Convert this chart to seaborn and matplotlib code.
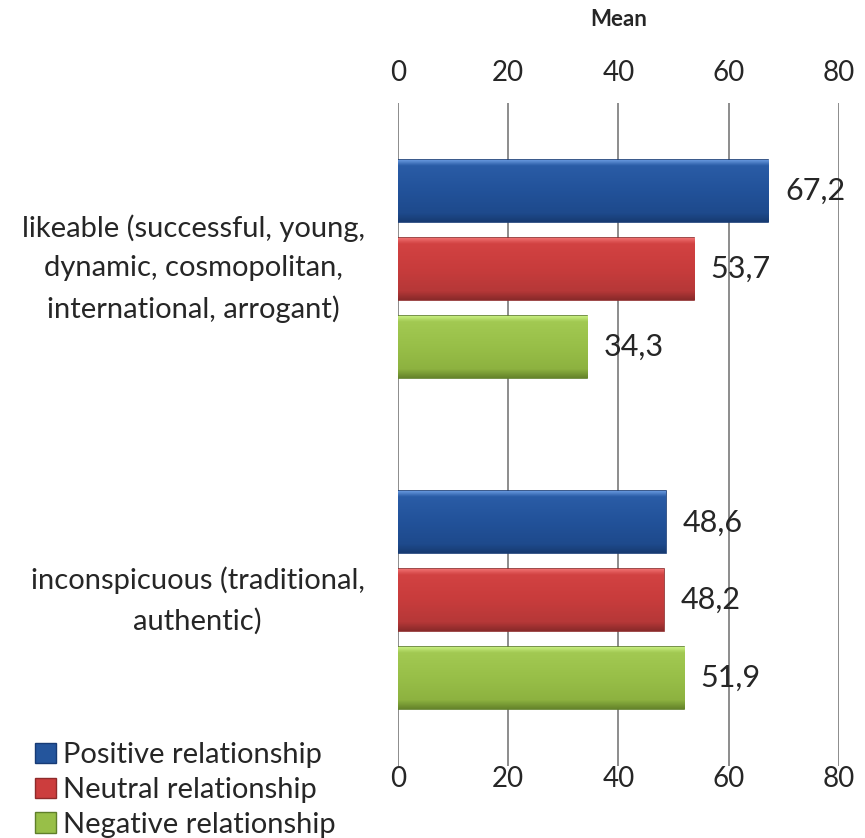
"""Grouped horizontal bar chart of mean scores by relationship type."""

import matplotlib.pyplot as plt
import numpy as np
import pandas as pd
import seaborn as sns
from matplotlib.colors import LinearSegmentedColormap

CATEGORIES = [
    "likeable (successful, young,\ndynamic, cosmopolitan,\ninternational, arrogant)",
    "inconspicuous (traditional,\nauthentic)",
]
RELATIONSHIPS = ["Positive relationship", "Neutral relationship", "Negative relationship"]
POSITIVE = [67.2, 48.6]
NEUTRAL = [53.7, 48.2]
NEGATIVE = [34.3, 51.9]
X_TICKS = [0, 20, 40, 60, 80]
COLORS = ["#24559C", "#CC3D3D", "#98BF48"]
GRADIENTS = [
    ["#6C9DE2", "#2A5CA6", "#22529A", "#1E4A8C", "#173B72"],
    ["#F27474", "#D24242", "#C83C3C", "#B63838", "#8A2A2A"],
    ["#CBF284", "#A2C952", "#98BF48", "#8DB240", "#66852B"],
]
EDGES = ["#173B75", "#8E2A2A", "#5F7F2A"]


def shade_bars(ax, container, stops):
    cmap = LinearSegmentedColormap.from_list(
        "bevel", list(zip([0, 0.1, 0.5, 0.86, 1], stops))
    )
    ramp = np.linspace(0, 1, 100).reshape(-1, 1)
    for bar in container:
        x, y = bar.get_x(), bar.get_y()
        w, h = bar.get_width(), bar.get_height()
        im = ax.imshow(
            ramp,
            cmap=cmap,
            aspect="auto",
            origin="upper",
            extent=[x, x + w, y + h, y],
            zorder=3.5,
        )
        im.set_clip_path(bar)


def main() -> None:
    sns.set_theme(style="white")
    plt.rcParams["font.family"] = ["Lato", "DejaVu Sans"]

    df = pd.DataFrame(
        {
            "category": CATEGORIES * 3,
            "relationship": [r for r in RELATIONSHIPS for _ in CATEGORIES],
            "mean": POSITIVE + NEUTRAL + NEGATIVE,
        }
    )

    fig = plt.figure(figsize=(8.65, 8.38), dpi=100)
    ax = fig.add_axes([0.460, 0.086, 0.510, 0.791])

    sns.barplot(
        data=df,
        y="category",
        x="mean",
        hue="relationship",
        hue_order=RELATIONSHIPS,
        order=CATEGORIES,
        orient="h",
        palette=COLORS,
        saturation=1,
        width=0.705,
        gap=0.2,
        errorbar=None,
        ax=ax,
        zorder=3,
    )

    for container, edge, stops in zip(ax.containers, EDGES, GRADIENTS):
        for bar in container:
            bar.set_edgecolor(edge)
            bar.set_linewidth(1.2)
        shade_bars(ax, container, stops)
        labels = [f"{b.get_width():.1f}".replace(".", ",") for b in container]
        ax.bar_label(container, labels=labels, padding=12, fontsize=22)

    ax.set_xlim(0, 80)
    ax.set_xticks(X_TICKS)
    ax.set_ylim(1.5, -0.5)
    ax.grid(axis="x", color="#8C8C8C", linewidth=1.4, zorder=0)
    ax.grid(axis="y", visible=False)
    for spine in ax.spines.values():
        spine.set_visible(False)

    ax.set_ylabel("")
    ax.set_xlabel("")
    ax.tick_params(axis="x", length=0, labelsize=20, pad=0)
    ax.tick_params(axis="y", length=0, labelsize=21, pad=24)
    for label in ax.get_yticklabels():
        label.set_multialignment("center")
        label.set_verticalalignment("center")
        label.set_linespacing(1.62)

    top = ax.secondary_xaxis("top")
    top.set_xticks(X_TICKS)
    top.tick_params(length=0, labelsize=20, pad=12)
    top.spines["top"].set_visible(False)
    top.set_xlabel("Mean", fontsize=16, fontweight="bold", labelpad=25)

    ax.legend_.remove()
    handles = [
        plt.Rectangle((0, 0), 1, 1, facecolor=c, edgecolor=e, linewidth=1)
        for c, e in zip(COLORS, EDGES)
    ]
    fig.legend(
        handles,
        RELATIONSHIPS,
        loc="lower left",
        bbox_to_anchor=(0.017, -0.024),
        frameon=False,
        fontsize=21,
        handlelength=0.7,
        handleheight=0.7,
        handletextpad=0.25,
        labelspacing=0.3,
        borderpad=0.2,
    )

    fig.savefig("out.png", dpi=100)


if __name__ == "__main__":
    main()
